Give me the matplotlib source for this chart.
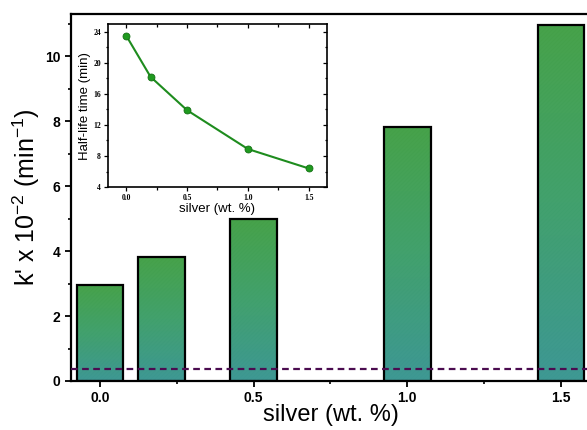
import numpy as np
import matplotlib
matplotlib.use("Agg")
import matplotlib.pyplot as plt
from matplotlib.colors import LinearSegmentedColormap
from matplotlib.ticker import MultipleLocator

# data
silver = [0.0, 0.2, 0.5, 1.0, 1.5]
k_values = [2.97, 3.82, 4.98, 7.82, 10.98]
half_life = [23.5, 18.2, 13.9, 8.9, 6.4]
ref_level = 0.37
x_ticks = [0.0, 0.5, 1.0, 1.5]
y_ticks = [0, 2, 4, 6, 8, 10]
inset_y_ticks = [4, 8, 12, 16, 20, 24]

plt.rcParams['font.family'] = ['Liberation Sans', 'DejaVu Sans']
plt.rcParams['mathtext.fontset'] = 'custom'
plt.rcParams['mathtext.rm'] = 'Liberation Sans'
plt.rcParams['mathtext.it'] = 'Liberation Sans:italic'
plt.rcParams['mathtext.bf'] = 'Liberation Sans:bold'
plt.rcParams['hatch.linewidth'] = 0.6

fig = plt.figure(figsize=(5.87, 4.30), dpi=100)
ax = fig.add_axes([0.121, 0.114, 0.887, 0.853])

bar_w = 0.152
cmap = LinearSegmentedColormap.from_list('g', ['#0f7f7a', '#148a4a', '#1a8c1e'])
grad = np.linspace(0, 1, 256).reshape(-1, 1)
for x, h in zip(silver, k_values):
    rect = ax.bar(x, h, width=bar_w, facecolor='none', edgecolor='none', zorder=2)[0]
    im = ax.imshow(grad, extent=[x - bar_w / 2, x + bar_w / 2, 0, h], origin='lower',
                   aspect='auto', cmap=cmap, zorder=2)
    im.set_clip_path(rect)
    ax.bar(x, h, width=bar_w, facecolor='none', edgecolor=(1, 1, 1, 0.22),
           hatch='/' * 25, linewidth=0, zorder=3)
    ax.bar(x, h, width=bar_w, facecolor='none', edgecolor='black', linewidth=1.6, zorder=4)

ax.axhline(ref_level, color='#4b0c50', linewidth=1.6, dashes=(3, 2), zorder=5)

ax.set_xlim(-0.094, 1.6)
ax.set_ylim(0, 11.3)
ax.set_xticks(x_ticks)
ax.set_xticklabels([f'{v:.1f}' for v in x_ticks])
ax.set_yticks(y_ticks)
ax.xaxis.set_minor_locator(MultipleLocator(0.25))
ax.yaxis.set_minor_locator(MultipleLocator(1))
ax.tick_params(which='major', direction='out', length=4, width=1.3, labelsize=10)
ax.tick_params(which='minor', direction='out', length=2.5, width=1.2)
for lab in ax.get_xticklabels() + ax.get_yticklabels():
    lab.set_fontweight('bold')
for s in ax.spines.values():
    s.set_linewidth(1.6)
ax.set_xlabel('silver (wt. %)', fontsize=17, labelpad=-1)
ax.set_ylabel("k' x 10$^{-2}$ (min$^{-1}$)", fontsize=18, labelpad=2)

# inset
ins = fig.add_axes([0.184, 0.565, 0.373, 0.379])
ins.plot(silver, half_life, color='#1e8c1e', linewidth=1.5, marker='o', markersize=5,
         markerfacecolor='#1f9a1f', markeredgecolor='#137013', markeredgewidth=0.6)
ins.set_xlim(-0.15, 1.65)
ins.set_ylim(4, 25)
ins.set_xticks(x_ticks)
ins.set_xticklabels([f'{v:.1f}' for v in x_ticks])
ins.set_yticks(inset_y_ticks)
ins.xaxis.set_minor_locator(MultipleLocator(0.25))
ins.yaxis.set_minor_locator(MultipleLocator(2))
ins.tick_params(which='both', top=True, right=True, width=0.9)
ins.tick_params(which='major', length=3, labelsize=5.5, pad=2)
ins.tick_params(which='minor', length=1.8)
for t in ins.xaxis.get_major_ticks() + ins.xaxis.get_minor_ticks():
    t.tick2line.set_marker(3)  # inward at top
for t in ins.yaxis.get_major_ticks() + ins.yaxis.get_minor_ticks():
    t.tick2line.set_marker(0)  # inward at right
for lab in ins.get_xticklabels() + ins.get_yticklabels():
    lab.set_fontweight('bold')
    lab.set_family(['Liberation Serif', 'DejaVu Serif'])
for s in ins.spines.values():
    s.set_linewidth(1.2)
ins.set_xlabel('silver (wt. %)', fontsize=9.5, labelpad=1)
ins.set_ylabel('Half-life time (min)', fontsize=9.5, labelpad=2)

fig.savefig('out.png', dpi=100)
